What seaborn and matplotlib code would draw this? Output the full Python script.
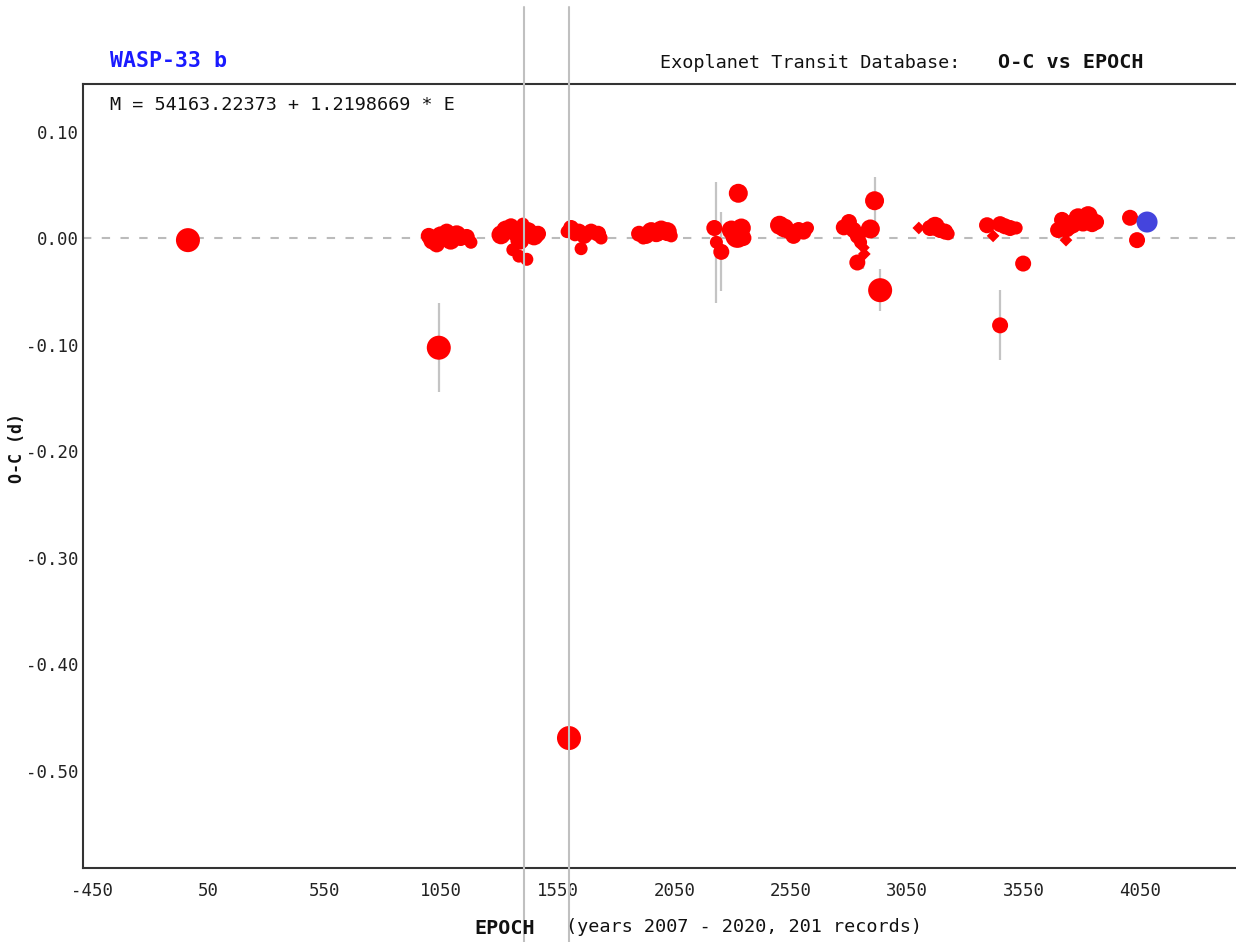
import matplotlib
matplotlib.use("Agg")
import matplotlib.pyplot as plt
import seaborn as sns
import pandas as pd

# O-C data (epoch, O-C in days, data quality 1..5, error)
epoch = [-38,
         996, 1013, 1030, 1047, 1073, 1090, 1116, 1133, 1159, 1177, 1039,
         1306, 1327, 1349, 1366, 1387, 1400, 1422, 1448, 1465, 1357, 1383, 1417,
         1590, 1607, 1624, 1641, 1650, 1663, 1693, 1723, 1736, 1598,
         1899, 1917, 1930, 1951, 1973, 1994, 2020, 2037,
         2222, 2231, 2252, 2295, 2321, 2338, 2347, 2325,
         2502, 2523, 2545, 2562, 2584, 2605, 2622,
         2778, 2800, 2820, 2838, 2850, 2862, 2866, 2836, 2892, 2910, 2934,
         3100,
         3148, 3170, 3191, 3213, 3226,
         3393, 3419, 3449, 3470, 3492, 3518, 3548, 3449,
         3698, 3715, 3732, 3750, 3758, 3784, 3805, 3827, 3844, 3861, 3732,
         4007, 4037]
oc = [-0.002,
      0.002, -0.002, -0.006, 0.002, 0.006, -0.002, 0.003, 0.000, 0.001, -0.004, -0.103,
      0.003, 0.0075, 0.011, 0.006, -0.002, 0.013, 0.006, 0.002, 0.004, -0.011, -0.017, -0.020,
      0.006, 0.0094, 0.003, 0.006, -0.010, 0.002, 0.006, 0.004, 0.000, -0.4695,
      0.004, 0.000, 0.002, 0.006, 0.005, 0.0075, 0.006, 0.002,
      0.0094, -0.004, -0.013, 0.0075, 0.002, 0.0094, 0.000, 0.042,
      0.012, 0.0094, 0.006, 0.002, 0.0075, 0.006, 0.0094,
      0.010, 0.015, 0.0075, 0.002, -0.004, -0.009, -0.015, -0.023, 0.0085, 0.035, -0.049,
      0.0094,
      0.0094, 0.011, 0.0075, 0.006, 0.004,
      0.012, 0.002, 0.013, 0.011, 0.0094, 0.0094, -0.024, -0.082,
      0.0075, 0.017, 0.0094, 0.011, 0.013, 0.019, 0.015, 0.021, 0.013, 0.015, -0.002,
      0.019, -0.002]
dq = [1,
      3, 2, 3, 2, 3, 2, 2, 3, 3, 4, 1,
      2, 2, 3, 2, 2, 4, 2, 2, 3, 4, 4, 4,
      4, 3, 4, 3, 4, 3, 3, 3, 4, 1,
      3, 4, 3, 2, 2, 2, 2, 4,
      3, 4, 3, 2, 1, 2, 3, 2,
      2, 2, 3, 3, 3, 3, 4,
      3, 3, 3, 3, 4, 5, 5, 3, 2, 2, 1,
      5,
      3, 2, 3, 3, 4,
      3, 5, 3, 3, 3, 4, 3, 3,
      3, 3, 2, 3, 2, 2, 2, 2, 3, 3, 5,
      3, 3]
err = [0.0,
       0, 0, 0, 0, 0, 0, 0, 0, 0, 0, 0.042,
       0, 0, 0, 0, 0, 0, 0, 0, 0, 0, 0, 0,
       0, 0, 0, 0, 0, 0, 0, 0, 0, 0,
       0, 0, 0, 0, 0, 0, 0, 0,
       0, 0.057, 0.037, 0, 0, 0, 0, 0,
       0, 0, 0, 0, 0, 0, 0,
       0, 0, 0, 0, 0, 0.02, 0, 0, 0, 0.022, 0.02,
       0,
       0, 0, 0, 0, 0,
       0, 0, 0, 0, 0, 0, 0, 0.033,
       0, 0, 0, 0, 0, 0, 0, 0, 0, 0, 0,
       0, 0]

# newest transit, drawn in blue
new_epoch = [4080]
new_oc = [0.015]

# epochs marked with vertical lines
marked_epochs = [1405, 1598]

df = pd.DataFrame({"epoch": epoch, "oc": oc, "dq": dq, "err": err})

sns.set_style("white")
plt.rcParams["font.family"] = ["DejaVu Sans Mono"]
plt.rcParams["axes.unicode_minus"] = False

fig = plt.figure(figsize=(12.36, 9.42), dpi=100)
ax = fig.add_axes([83 / 1236, 74 / 942, (1250 - 83) / 1236, 784 / 942])

# error bars first so the dots sit on top
eb = df[df["err"] > 0]
ax.errorbar(eb["epoch"], eb["oc"], yerr=eb["err"], fmt="none",
            ecolor="#c4c4c4", elinewidth=1.6, zorder=1)

ax.axhline(0, color="#bbbbbb", lw=1.5, ls=(0, (4, 5)), zorder=0)

size_map = {1: 299, 2: 187, 3: 133, 4: 88, 5: 42}
marker_map = {1: "o", 2: "o", 3: "o", 4: "o", 5: "D"}
sns.scatterplot(data=df, x="epoch", y="oc", size="dq", sizes=size_map,
                style="dq", markers=marker_map, color="#ff0000",
                edgecolor="none", linewidth=0, legend=False, ax=ax, zorder=3)
sns.scatterplot(x=new_epoch, y=new_oc, color="#4444dd", s=229,
                edgecolor="none", linewidth=0, legend=False, ax=ax, zorder=4)

for e in marked_epochs:
    ax.axvline(e, ymin=-0.095, ymax=1.098, color="#c0c0c0", lw=1.5,
               clip_on=False, zorder=5)

ax.set_xlim(-488.6, 4522)
ax.set_ylim(-0.5915, 0.1446)
ax.set_xticks(range(-450, 4100, 500))
ax.set_yticks([0.10, 0.0, -0.10, -0.20, -0.30, -0.40, -0.50])
ax.set_yticklabels(["0.10", "0.00", "-0.10", "-0.20", "-0.30", "-0.40", "-0.50"])
ax.set_xlabel("")
ax.set_ylabel("")
ax.tick_params(axis="y", direction="inout", length=12, width=1.2,
               labelsize=12.5, colors="#222222", pad=-3)
ax.tick_params(axis="x", direction="in", length=8, width=1.2,
               labelsize=12.5, colors="#222222", pad=10)

for side in ["left", "bottom", "top"]:
    ax.spines[side].set_color("#333333")
    ax.spines[side].set_linewidth(1.5)
ax.spines["right"].set_visible(False)

# header and axis texts
fig.text(110 / 1236, 1 - 61 / 942, "WASP-33 b", color="#1a1aff",
         fontsize=15.5, fontweight="bold", va="center")
fig.text(660 / 1236, 1 - 63 / 942, "Exoplanet Transit Database:",
         color="#111111", fontsize=13.3, va="center")
fig.text(998 / 1236, 1 - 63 / 942, "O-C vs EPOCH", color="#111111",
         fontsize=14.5, fontweight="bold", va="center")
fig.text(110 / 1236, 1 - 105 / 942, "M = 54163.22373 + 1.2198669 * E",
         color="#111111", fontsize=13.3, va="center")
fig.text(474 / 1236, 1 - 928 / 942, "EPOCH", color="#111111",
         fontsize=14.5, fontweight="bold", va="center")
fig.text(566 / 1236, 1 - 927 / 942, "(years 2007 - 2020, 201 records)",
         color="#111111", fontsize=13.3, va="center")
fig.text(17 / 1236, 1 - 448 / 942, "O-C (d)", color="#111111",
         fontsize=12, fontweight="bold", rotation=90, va="center", ha="center")

fig.savefig("out.png", dpi=100)
